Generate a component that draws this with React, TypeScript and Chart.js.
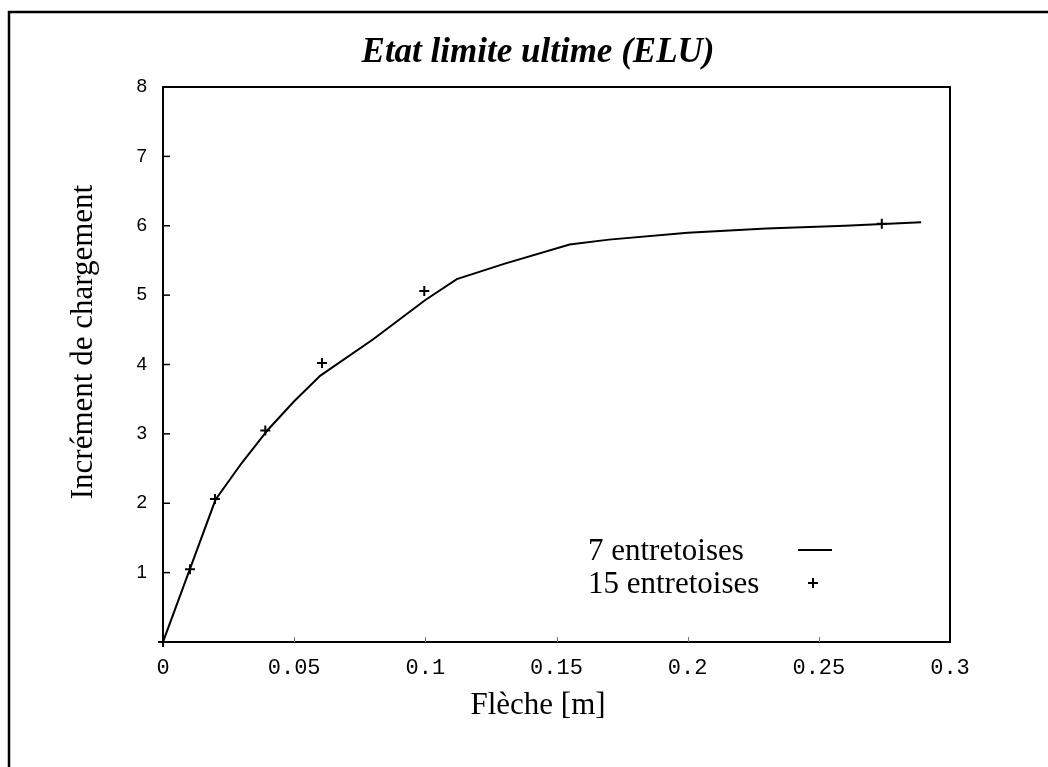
import React, { useEffect, useRef } from 'react';
import { Chart, registerables } from 'chart.js';

Chart.register(...registerables);

// ---- data ----
const chartTitle = 'Etat limite ultime (ELU)';
const xTitle = 'Flèche [m]';
const yTitle = 'Incrément de chargement';
const seriesLabels = ['7 entretoises', '15 entretoises'];

const lineX = [0, 0.02, 0.03, 0.04, 0.05, 0.06, 0.08, 0.1, 0.112, 0.13, 0.155, 0.17, 0.2, 0.23, 0.26, 0.289];
const lineY = [0, 2.05, 2.58, 3.06, 3.47, 3.84, 4.36, 4.93, 5.23, 5.45, 5.73, 5.8, 5.9, 5.96, 6.0, 6.05];

const pointX = [0, 0.0103, 0.0198, 0.039, 0.0606, 0.0996, 0.274];
const pointY = [0, 1.05, 2.06, 3.05, 4.02, 5.06, 6.03];

const xTickLabels = ['0', '0.05', '0.1', '0.15', '0.2', '0.25', '0.3'];
const yTickLabels = ['', '1', '2', '3', '4', '5', '6', '7', '8'];

const decorPlugin = {
  id: 'decor',
  beforeDraw(chart: any) {
    const { ctx } = chart;
    ctx.save();
    ctx.strokeStyle = '#000';
    ctx.lineWidth = 2.5;
    ctx.beginPath();
    ctx.moveTo(9, 767);
    ctx.lineTo(9, 12);
    ctx.lineTo(1048, 12);
    ctx.stroke();
    ctx.restore();
  },
  afterDraw(chart: any) {
    const { ctx, chartArea: a, scales } = chart;
    ctx.save();
    // plot frame
    ctx.strokeStyle = '#000';
    ctx.lineWidth = 2;
    ctx.strokeRect(a.left, a.top, a.right - a.left, a.bottom - a.top);
    // inward y ticks
    ctx.lineWidth = 1.5;
    scales.y.ticks.forEach((t: any) => {
      if (t.value > scales.y.min && t.value < scales.y.max) {
        const py = scales.y.getPixelForValue(t.value);
        ctx.beginPath();
        ctx.moveTo(a.left, py);
        ctx.lineTo(a.left + 7, py);
        ctx.stroke();
      }
    });
    // faint x ticks
    ctx.strokeStyle = '#777';
    ctx.lineWidth = 1;
    scales.x.ticks.forEach((t: any) => {
      if (t.value > scales.x.min && t.value < scales.x.max) {
        const px = Math.round(scales.x.getPixelForValue(t.value)) + 0.5;
        ctx.beginPath();
        ctx.moveTo(px, a.bottom);
        ctx.lineTo(px, a.bottom - 5);
        ctx.stroke();
      }
    });
    // y axis title
    ctx.fillStyle = '#000';
    ctx.font = '31px "Liberation Serif"';
    ctx.textAlign = 'center';
    ctx.textBaseline = 'middle';
    ctx.save();
    ctx.translate(84, 342);
    ctx.rotate(-Math.PI / 2);
    ctx.fillText(yTitle, 0, 0);
    ctx.restore();
    // legend
    const ds = chart.data.datasets;
    ctx.textAlign = 'left';
    ctx.textBaseline = 'alphabetic';
    ctx.fillText(ds[0].label, 588, 560);
    ctx.fillText(ds[1].label, 588, 593);
    ctx.strokeStyle = '#000';
    ctx.lineWidth = 2;
    ctx.beginPath();
    ctx.moveTo(798, 550);
    ctx.lineTo(832, 550);
    ctx.stroke();
    ctx.lineWidth = 2;
    ctx.beginPath();
    ctx.moveTo(808, 583);
    ctx.lineTo(818, 583);
    ctx.moveTo(813, 578);
    ctx.lineTo(813, 588);
    ctx.stroke();
    ctx.restore();
  },
};

export default function App() {
  const ref = useRef<HTMLCanvasElement>(null);
  useEffect(() => {
    if (!ref.current) return;
    const chart = new Chart(ref.current, {
      type: 'scatter',
      data: {
        datasets: [
          {
            label: seriesLabels[0],
            data: lineX.map((x, i) => ({ x, y: lineY[i] })),
            showLine: true,
            borderColor: '#000',
            backgroundColor: '#000',
            borderWidth: 2,
            pointRadius: 0,
            tension: 0,
          },
          {
            label: seriesLabels[1],
            data: pointX.map((x, i) => ({ x, y: pointY[i] })),
            showLine: false,
            pointStyle: 'cross',
            pointRadius: 5,
            borderColor: '#000',
            backgroundColor: '#000',
            borderWidth: 2,
            clip: false,
          } as any,
        ],
      },
      options: {
        responsive: false,
        animation: false,
        devicePixelRatio: 1,
        layout: { padding: { left: 28, right: 0, top: 0, bottom: 0 } },
        plugins: {
          legend: { display: false },
          tooltip: { enabled: false },
          title: {
            display: true,
            text: chartTitle,
            color: '#000',
            font: { family: '"Liberation Serif"', size: 35, style: 'italic', weight: 'bold' },
            padding: { top: 32, bottom: 13 },
          },
          subtitle: {
            display: true,
            position: 'bottom',
            text: xTitle,
            color: '#000',
            font: { family: '"Liberation Serif"', size: 31, weight: 'normal' },
            padding: { top: 10, bottom: 42.8 },
          },
        },
        scales: {
          x: {
            type: 'linear',
            min: 0,
            max: 0.3,
            grid: { display: false, drawTicks: false },
            border: { display: true, color: '#000', width: 2 },
            ticks: {
              stepSize: 0.05,
              autoSkip: false,
              maxRotation: 0,
              color: '#000',
              padding: 13,
              font: { family: '"Liberation Mono"', size: 22 },
              callback: (_v: any, i: number) => xTickLabels[i],
            },
            afterFit: (s: any) => { s.height = 35; },
          },
          y: {
            type: 'linear',
            min: 0,
            max: 8,
            grid: { display: false, drawTicks: false },
            border: { display: true, color: '#000', width: 2 },
            ticks: {
              stepSize: 1,
              autoSkip: false,
              color: '#000',
              padding: 16,
              font: { family: '"Liberation Sans"', size: 19 },
              callback: (_v: any, i: number) => yTickLabels[i],
            },
            afterFit: (s: any) => { s.width = 135; },
          },
          y2: {
            type: 'linear',
            position: 'right',
            display: true,
            grid: { display: false, drawTicks: false },
            border: { display: false },
            ticks: { display: false },
            afterFit: (s: any) => { s.width = 98; },
          },
        },
      } as any,
      plugins: [decorPlugin],
    });
    return () => chart.destroy();
  }, []);
  return (
    <div style={{ position: 'absolute', left: 0, top: 0, width: 1048, height: 767, background: '#fff' }}>
      <canvas ref={ref} width={1048} height={767} />
    </div>
  );
}
